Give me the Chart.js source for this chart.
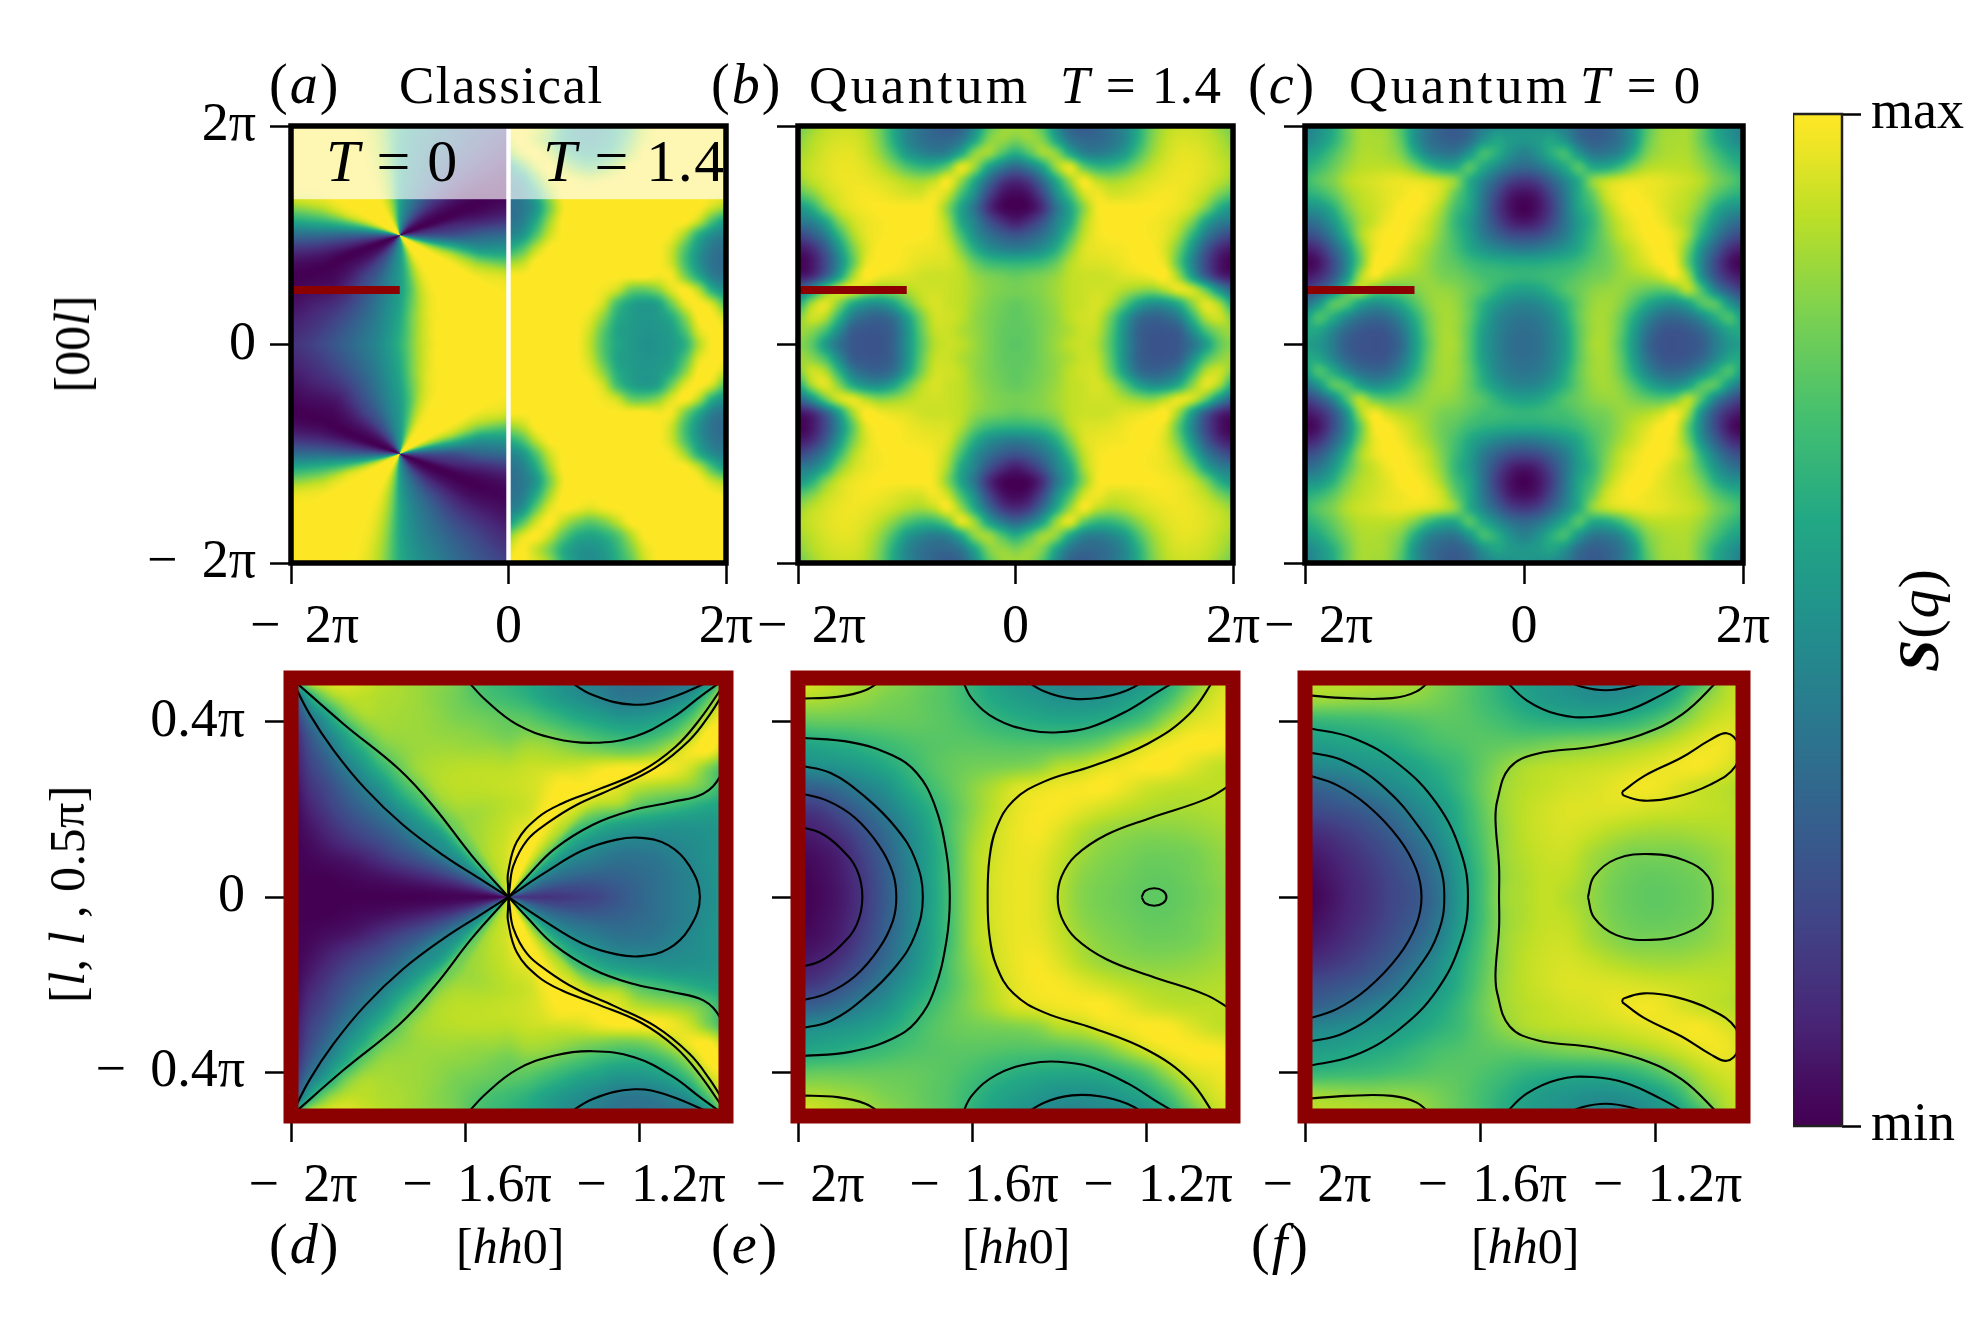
<!DOCTYPE html>
<html>
<head>
<meta charset="utf-8">
<script src="https://cdn.jsdelivr.net/npm/chart.js@4"></script>
<style>
  html, body { margin: 0; background: #fff; }
  #page { position: relative; width: 1980px; height: 1320px; overflow: hidden; font-family: "Liberation Serif", serif; color: #000; }
  canvas { position: absolute; }
  .txt { position: absolute; line-height: 1; white-space: pre; z-index: 5; }
  .rot { position: absolute; line-height: 1; white-space: pre; z-index: 5; transform: translate(-50%, -50%) rotate(-90deg); }
</style>
</head>
<body>
<div id="page"></div>
<script>
// tick positions and labels (pi units)
const topTicksX = [-2, 0, 2];
const topTicksY = [-2, 0, 2];
const topLabelsX = ['\u00a0\u00a0\u2212\u00a0\u20092\u03c0', '0', '2\u03c0'];
const topLabelsY = ['\u2212\u00a0\u20092\u03c0', '0', '2\u03c0'];
const botTicksX = [-2, -1.6, -1.2];
const botTicksY = [-0.4, 0, 0.4];
const botLabelsX = ['\u2212\u00a0\u20092\u03c0', '\u2212\u00a0\u20091.6\u03c0', '\u2212\u00a0\u20091.2\u03c0'];
const botLabelsY = ['\u2212\u00a0\u20090.4\u03c0', '0', '0.4\u03c0'];
const barTicks = [0, 1];
const barLabels = ['min', 'max'];

// viridis, 0..100
const viridis = ['#440154', '#482475', '#414487', '#355f8d', '#2a788e', '#21918c', '#22a884', '#44bf70', '#7ad151', '#bddf26', '#fde725'];
const barValues = [0, 10, 20, 30, 40, 50, 60, 70, 80, 90, 100];

// S(q), 0 = min, 100 = max.
// (a) left half, read round the point (-1, -1): one row per radius, every 10 degrees
const aRadii = [0.1, 0.25, 0.5, 0.75, 1];
const aRound = [
  [25,48,80,100,100,100,92,78,62,52,45,36,26,16,7,2,0,10,28,52,85,100,100,100,98,88,72,55,45,36,26,16,7,2,0,10],
  [25,50,84,100,100,100,95,82,66,53,46,37,27,18,8,2,0,11,30,57,88,100,100,100,99,91,77,57,46,38,29,19,9,2,0,11],
  [25,55,88,100,100,100,98,88,70,55,47,38,28,20,10,3,0,12,32,62,92,100,100,100,100,95,82,60,48,40,32,22,12,3,0,12],
  [32,52,85,100,100,100,100,96,82,60,48,37,27,16,6,1,1,12,35,65,90,100,100,100,100,97,84,60,48,40,32,22,12,3,0,10],
  [35,60,92,100,100,100,100,100,88,64,48,38,28,18,10,3,0,10,35,68,95,100,100,100,100,98,86,62,50,42,33,24,14,5,1,10]
];
// (a) right half, upper quadrant, x 0..2, y 2..0
const aRight = [
  [100,100,95,85,65,52,48,52,62,75,92,100,100,100,100,100,100],
  [95,100,92,80,62,52,50,54,65,80,95,100,100,100,100,100,100],
  [82,95,100,92,75,62,58,62,72,88,100,100,100,100,100,100,100],
  [55,72,92,100,90,80,75,80,90,100,100,100,100,100,100,100,100],
  [42,50,75,95,100,98,95,98,100,100,100,100,100,100,100,100,100],
  [38,42,60,85,100,100,100,100,100,100,100,100,100,100,100,100,98],
  [36,40,52,78,98,100,100,100,100,100,100,100,100,100,100,92,85],
  [38,43,60,85,100,100,100,100,100,100,100,100,100,100,90,70,55],
  [45,52,72,92,100,100,100,100,100,100,100,100,98,85,62,48,42],
  [62,72,90,100,100,100,100,100,100,100,100,100,92,72,52,40,36],
  [85,90,100,100,100,100,100,100,100,100,100,100,92,70,50,38,34],
  [100,100,100,100,100,100,100,100,100,100,100,98,98,80,60,43,38],
  [100,100,100,100,100,100,100,98,92,78,76,82,95,100,88,62,50],
  [100,100,100,100,100,100,100,92,70,58,54,58,78,96,100,92,72],
  [100,100,100,100,100,100,96,82,62,55,52,54,62,82,100,100,92],
  [100,100,100,100,100,100,92,74,58,54,51,52,56,72,95,100,100],
  [100,100,100,100,100,100,90,72,59,54,50,51,54,64,88,100,100]
];
// (b) upper left quadrant, x -2..0, y 2..0
const bQuad = [
  [78,84,90,92,92,88,78,60,46,38,32,28,32,48,72,84,86],
  [82,88,92,94,94,90,80,62,46,38,34,34,40,58,80,84,80],
  [86,90,94,96,96,92,84,70,54,46,42,45,60,82,85,72,62],
  [88,92,95,97,97,95,90,82,72,66,66,76,95,84,58,42,34],
  [84,90,94,97,98,97,95,92,88,86,90,98,84,60,36,18,12],
  [72,80,90,95,98,99,98,96,94,94,98,92,70,48,22,6,2],
  [52,62,80,92,97,99,100,100,100,100,98,82,58,38,14,2,0],
  [40,44,58,80,92,97,99,100,100,100,98,86,60,44,26,14,8],
  [20,28,42,65,86,96,99,100,100,100,98,90,70,50,38,30,26],
  [6,12,28,52,78,94,100,100,99,98,97,94,80,62,50,44,42],
  [0,6,22,46,74,96,100,100,98,96,95,94,88,76,68,65,64],
  [6,12,30,56,85,100,98,96,95,93,92,92,90,84,80,78,76],
  [32,50,75,92,96,88,82,84,88,92,93,92,90,86,82,80,79],
  [60,85,95,82,62,52,50,58,74,88,94,92,90,85,81,78,76],
  [80,92,88,65,42,34,32,38,56,78,92,93,90,84,80,77,75],
  [85,82,70,48,30,27,27,32,50,74,90,92,88,84,80,76,75],
  [82,75,55,38,28,26,26,32,50,72,88,92,90,85,80,76,74]
];
// (c) upper left quadrant, x -2..0, y 2..0
const cQuad = [
  [42,50,60,76,86,86,84,72,52,38,30,28,32,42,48,50,52],
  [45,52,62,76,86,87,85,75,52,38,32,30,36,50,58,54,52],
  [55,60,70,80,87,88,86,80,62,46,40,40,52,68,62,50,44],
  [62,68,76,84,89,90,90,88,80,68,60,60,72,60,48,38,34],
  [68,74,80,88,92,94,96,97,96,94,90,82,62,46,32,20,16],
  [62,66,74,84,90,93,96,98,100,98,92,76,60,40,22,8,4],
  [50,52,62,78,88,92,96,100,100,96,86,70,58,38,18,5,0],
  [35,40,52,70,85,92,98,100,98,92,82,66,54,38,22,10,6],
  [22,28,42,62,85,96,100,100,96,90,80,68,56,42,32,24,22],
  [8,14,30,50,78,96,100,98,92,86,78,70,60,52,46,42,40],
  [0,6,22,45,75,98,100,95,90,84,78,74,68,64,62,60,60],
  [6,12,26,50,85,98,92,88,86,84,80,78,74,70,68,66,65],
  [18,28,44,70,88,78,74,76,80,84,84,82,77,72,64,58,56],
  [38,52,72,72,58,50,52,60,72,82,86,84,76,64,54,47,45],
  [55,70,62,48,38,34,36,46,62,78,86,85,76,60,47,41,39],
  [60,58,46,34,28,26,28,38,56,76,86,85,74,56,45,38,36],
  [55,52,42,30,26,25,26,34,54,74,86,86,74,55,44,37,35]
];
// (d) near the point (-1.5, 0): one row per radius, every 5 degrees, upper half
const dRadii = [0.1, 0.2, 0.3, 0.4];
const dRound = [
  [15,18,22,28,33,38,44,50,58,68,78,88,95,100,100,100,100,98,95,93,92,91,90,88,86,80,74,66,56,47,38,30,22,14,8,3,1],
  [20,23,27,32,38,42,47,52,60,68,85,92,98,100,98,94,92,91,90,89,88,87,86,85,84,80,76,62,52,48,40,30,22,14,7,2,0],
  [32,33,36,38,40,45,52,58,68,80,92,100,100,100,96,92,91,90,90,90,90,90,90,90,88,84,72,62,50,45,35,28,22,14,7,2,0],
  [42,42,43,44,47,51,58,68,80,95,100,92,82,72,64,64,70,78,80,84,86,88,90,90,90,87,78,65,52,42,35,28,20,13,7,2,0]
];
// (d) further out, upper half, x -2..-1, y 0.5..0
const dHalf = [
  [60,95,97,97,93,90,87,85,83,80,72,68,64,60,56,50,46,42,38,37,37,38,38,45,80],
  [22,60,82,90,90,88,87,85,82,79,74,70,67,63,57,52,48,44,40,39,40,44,50,70,95],
  [12,40,58,78,87,87,86,85,83,80,78,76,74,72,67,62,57,54,50,50,52,57,68,88,100],
  [8,28,45,60,76,84,85,85,84,83,82,80,78,80,78,74,70,66,63,62,65,72,85,100,100],
  [5,22,35,50,62,76,82,85,86,86,85,85,84,88,88,85,82,80,78,78,82,90,98,100,90],
  [3,18,28,40,52,64,76,85,88,89,90,90,90,93,94,94,95,98,100,100,100,98,92,80,68],
  [1,14,22,32,42,52,66,78,88,91,93,95,97,98,100,100,100,100,96,90,87,85,82,75,64],
  [0,10,18,26,34,42,54,68,84,92,96,98,100,100,100,100,97,94,90,76,71,68,64,60,58],
  [0,6,13,20,26,32,40,55,72,86,94,99,100,100,98,92,80,68,60,56,54,52,52,52,54],
  [0,3,8,13,18,22,30,38,52,72,90,98,100,94,88,68,52,46,44,44,44,46,48,50,52],
  [0,1,3,5,8,12,18,24,32,45,68,94,100,72,48,38,34,34,34,36,38,42,46,50,52],
  [0,0,0,1,2,3,5,8,12,18,30,58,95,40,24,22,24,26,28,32,36,40,44,49,52],
  [0,0,0,0,0,0,0,0,1,2,5,14,50,10,14,16,20,24,28,32,36,40,44,48,52]
];
// (e) upper half, x -2..-1, y 0.5..0
const eHalf = [
  [97,93,90,87,84,80,76,72,64,57,52,48,45,44,46,48,52,60,74,88,96],
  [88,87,85,83,80,78,75,72,66,60,56,53,50,50,51,55,60,70,84,93,97],
  [75,76,76,76,76,76,75,73,70,66,63,61,60,60,62,66,73,85,94,97,99],
  [58,60,62,65,68,71,73,74,74,73,72,72,72,74,78,86,93,98,100,100,98],
  [48,50,52,55,60,66,72,76,78,79,80,82,88,90,95,98,100,100,96,92,90],
  [30,32,37,44,50,60,68,75,82,88,94,96,98,99,100,97,93,91,90,90,90],
  [15,18,25,33,42,52,62,72,82,90,96,99,99,96,93,90,88,87,87,88,89],
  [7,10,16,25,35,46,58,72,84,92,97,99,95,89,85,83,82,82,83,85,87],
  [3,5,10,20,31,44,56,70,86,93,97,97,92,86,82,80,78,78,79,82,85],
  [0,3,8,17,29,42,56,70,86,94,97,96,90,83,80,78,76,76,78,81,84],
  [0,2,7,16,28,42,55,70,86,94,97,96,89,82,79,77,75,75,77,80,83]
];
// (f) upper half, x -2..-1, y 0.5..0
const fHalf = [
  [90,90,90,89,88,87,82,76,70,62,56,53,49,46,44,46,50,56,66,85,92],
  [86,85,84,83,83,82,79,75,70,64,58,54,52,50,50,52,56,65,80,88,93],
  [65,66,67,68,70,72,74,74,72,69,65,63,62,62,63,66,72,80,88,93,94],
  [55,56,58,60,62,66,70,72,74,75,76,78,80,81,83,85,88,92,96,98,94],
  [46,47,49,52,54,58,63,68,75,82,87,89,90,91,92,94,96,98,99,96,92],
  [30,33,37,42,47,52,58,66,76,85,89,91,93,94,96,98,98,95,92,90,88],
  [22,24,27,31,37,45,52,62,74,85,90,93,95,95,95,94,93,92,91,90,89],
  [12,15,19,24,30,38,48,60,72,84,90,93,94,92,89,87,86,86,87,88,89],
  [6,9,14,19,25,32,42,56,70,84,89,92,92,87,83,80,80,80,82,85,88],
  [2,6,11,16,22,28,38,53,68,83,88,91,90,85,80,77,76,77,79,84,88],
  [0,4,10,15,21,26,36,52,68,84,88,91,88,84,79,76,75,76,78,83,87]
];

// red cut line and the dividing line of panel (a)
const cutX = [-2, -1];
const cutY = [0.5, 0.5];
const splitX = [0, 0];
const splitY = [-2, 2];
const bandY = [1.33, 2];

// contour lines, upper half, as x list and y list
const dA = [[-2,-1.957,-1.902,-1.83,-1.743,-1.648,-1.568,-1.5], [.5,.417,.335,.248,.165,.094,.043,0]];
const dB = [[-2,-1.878,-1.751,-1.671,-1.584,-1.5], [.5,.394,.291,.205,.094,0]];
const dC = [[-1.5,-1.501,-1.501,-1.481,-1.433,-1.378,-1.298,-1.195,-1.116,-1.06,-1], [0,.024,.055,.126,.181,.213,.244,.287,.343,.406,.492]];
const dE = [[-1.5,-1.498,-1.489,-1.457,-1.41,-1.346,-1.259,-1.163,-1.084,-1.037,-1], [0,.016,.071,.13,.169,.209,.248,.295,.358,.417,.476]];
const dF = [[-1.5,-1.457,-1.394,-1.306,-1.219,-1.124,-1.052,-1.013,-1], [0,.047,.11,.165,.197,.217,.236,.276,.323]];
const dG = [[-1.6,-1.552,-1.481,-1.394,-1.306,-1.211,-1.124,-1.06,-1], [.5,.449,.394,.362,.352,.366,.409,.457,.5]];
const dH = [[-1.37,-1.306,-1.211,-1.132,-1.021], [.5,.461,.439,.453,.5]];
const dLoop = [[-1.5,-1.417,-1.33,-1.251,-1.195,-1.132,-1.084,-1.06], [0,.055,.106,.131,.135,.118,.071,0]];

const e1 = [[-2,-1.948,-1.901,-1.865,-1.852], [.161,.146,.11,.063,0]];
const e2 = [[-2,-1.933,-1.869,-1.814,-1.782,-1.774], [.238,.22,.181,.118,.055,0]];
const e3 = [[-2,-1.925,-1.845,-1.774,-1.731,-1.713], [.301,.283,.228,.157,.087,0]];
const e4 = [[-2,-1.877,-1.782,-1.727,-1.687,-1.659,-1.651], [.364,.353,.323,.283,.213,.102,0]];
const e8 = [[-1.041,-1.101,-1.196,-1.323,-1.433,-1.505,-1.544,-1.56,-1.564], [.5,.417,.35,.299,.264,.22,.157,.087,0]];
const e9 = [[-1,-1.061,-1.188,-1.291,-1.362,-1.394,-1.403], [.26,.224,.181,.142,.094,.047,0]];
const e10 = [[-1.21,-1.202,-1.181,-1.161,-1.153], [0,.014,.02,.014,0]];
const e5 = [[-2,-1.909,-1.845,-1.802], [.453,.457,.472,.5]];
const e6 = [[-1.624,-1.6,-1.544,-1.465,-1.402,-1.33,-1.243,-1.172,-1.118], [.5,.453,.406,.38,.376,.387,.425,.469,.5]];
const e7 = [[-1.485,-1.433,-1.37,-1.307,-1.243,-1.194], [.5,.469,.453,.455,.472,.5]];

const f1 = [[-2,-1.928,-1.857,-1.786,-1.746,-1.734], [.28,.256,.209,.134,.063,0]];
const f2 = [[-2,-1.912,-1.817,-1.738,-1.695,-1.682], [.332,.311,.248,.157,.079,0]];
const f3 = [[-2,-1.888,-1.786,-1.699,-1.644,-1.628], [.387,.362,.303,.213,.102,0]];
const f7 = [[-1.051,-1.139,-1.234,-1.344,-1.47,-1.533,-1.561,-1.565,-1.557,-1.557], [.5,.417,.37,.343,.327,.295,.22,.173,.071,0]];
const f8 = [[-1.354,-1.34,-1.289,-1.21,-1.132,-1.08,-1.069], [0,.047,.087,.098,.083,.047,0]];
const f4 = [[-2,-1.904,-1.801,-1.746,-1.709], [.461,.454,.454,.469,.5]];
const f5 = [[-1.548,-1.494,-1.423,-1.344,-1.266,-1.187,-1.118], [.5,.449,.417,.411,.425,.461,.5]];
const f6 = [[-1.415,-1.368,-1.313,-1.258,-1.199], [.5,.48,.472,.48,.5]];
const f9 = [[-1.276,-1.226,-1.139,-1.076,-1.037,-1.012,-1.017,-1.076,-1.155,-1.226,-1.273,-1.276], [.24,.276,.319,.358,.374,.35,.299,.256,.228,.22,.232,.24]];

const flipRows = rows => rows.concat(rows.slice(0, -1).reverse());
const flipCols = rows => rows.map(r => r.concat(r.slice(0, -1).reverse()));

// stops as rgb once
const stops = viridis.map(c => [parseInt(c.slice(1, 3), 16), parseInt(c.slice(3, 5), 16), parseInt(c.slice(5, 7), 16)]);
function colorOf(v) {
  const t = Math.min(Math.max(v, 0), 100) / 10;
  const i = Math.min(Math.floor(t), 9);
  const f = t - i;
  return [0, 1, 2].map(k => stops[i][k] + (stops[i + 1][k] - stops[i][k]) * f);
}

function cubic(a, b, c, d, t) {
  return b + 0.5 * t * (c - a + t * (2 * a - 5 * b + 4 * c - d + t * (3 * (b - c) + d - a)));
}
function sample(rows, u, v) {
  const nr = rows.length, nc = rows[0].length;
  const i = Math.min(Math.floor(v), nr - 2), j = Math.min(Math.floor(u), nc - 2);
  const col = [];
  for (let m = -1; m <= 2; m++) {
    const r = rows[Math.min(Math.max(i + m, 0), nr - 1)];
    const at = n => r[Math.min(Math.max(j + n, 0), nc - 1)];
    col.push(cubic(at(-1), at(0), at(1), at(2), u - j));
  }
  return cubic(col[0], col[1], col[2], col[3], v - i);
}
function sampleGrid(g, xv, yv) {
  const u = (xv - g.x[0]) / (g.x[1] - g.x[0]) * (g.rows[0].length - 1);
  const v = (g.y[1] - yv) / (g.y[1] - g.y[0]) * (g.rows.length - 1);
  return sample(g.rows, Math.max(u, 0), Math.max(v, 0));
}
// round table: along the angle smooth, between radii straight
function sampleRound(g, xv, yv) {
  const dx = xv - g.cx, dy = g.dy(yv);
  const rad = Math.hypot(dx, dy);
  if (g.far && rad >= g.fade[1]) return sampleGrid(g.far, xv, yv);
  let deg = Math.atan2(dy, dx) * 180 / Math.PI;
  if (deg < 0) deg += 360;
  const n = g.rows[0].length;
  const a = deg / g.step, k = Math.floor(a);
  const along = r => cubic(r[g.wrap(k - 1, n)], r[g.wrap(k, n)], r[g.wrap(k + 1, n)], r[g.wrap(k + 2, n)], a - k);
  const rs = g.radii;
  let val = along(g.rows[rs.length - 1]);
  if (rad <= rs[0]) {
    val = along(g.rows[0]);
  } else {
    for (let i = 1; i < rs.length; i++) {
      if (rad <= rs[i]) {
        const t = (rad - rs[i - 1]) / (rs[i] - rs[i - 1]);
        val = along(g.rows[i - 1]) * (1 - t) + along(g.rows[i]) * t;
        break;
      }
    }
  }
  if (g.far && rad > g.fade[0]) {
    const t = (rad - g.fade[0]) / (g.fade[1] - g.fade[0]);
    val = val * (1 - t) + sampleGrid(g.far, xv, yv) * t;
  }
  return val;
}

// paints value grids under the datasets, pixel by pixel through the chart scales
const heatPlugin = {
  id: 'heat',
  beforeDatasetsDraw(chart, args, opts) {
    const area = chart.chartArea, sx = chart.scales.x, sy = chart.scales.y;
    const x0 = Math.round(area.left), y0 = Math.round(area.top);
    const w = Math.round(area.right) - x0, h = Math.round(area.bottom) - y0;
    const img = chart.ctx.createImageData(w, h);
    for (let py = 0; py < h; py++) {
      const yv = sy.getValueForPixel(y0 + py + 0.5);
      for (let px = 0; px < w; px++) {
        const xv = sx.getValueForPixel(x0 + px + 0.5);
        const g = opts.layers.find(l => xv <= l.x[1]) || opts.layers[opts.layers.length - 1];
        const c = colorOf(g.radii ? sampleRound(g, xv, yv) : sampleGrid(g, xv, yv));
        const o = (py * w + px) * 4;
        img.data[o] = c[0]; img.data[o + 1] = c[1]; img.data[o + 2] = c[2]; img.data[o + 3] = 255;
      }
    }
    chart.ctx.putImageData(img, x0, y0);
    if (opts.band) {
      const top = sy.getPixelForValue(opts.band[1]), bot = sy.getPixelForValue(opts.band[0]);
      chart.ctx.fillStyle = 'rgba(255,255,255,0.65)';
      chart.ctx.fillRect(area.left, top, area.right - area.left, bot - top);
    }
  },
  afterDatasetsDraw(chart, args, opts) {
    const a = chart.chartArea, ctx = chart.ctx;
    ctx.save();
    ctx.strokeStyle = opts.frame;
    ctx.lineWidth = opts.frameWidth;
    ctx.strokeRect(a.left, a.top, a.right - a.left, a.bottom - a.top);
    ctx.restore();
  }
};

const toPts = line => line[0].map((x, i) => ({ x: x, y: line[1][i] }));
const lineSet = (pts, color, width, tension) => ({
  data: pts, showLine: true, pointRadius: 0, borderColor: color, borderWidth: width,
  borderCapStyle: 'butt', tension: tension
});
const contour = pts => lineSet(pts, '#000', 2.1, 0.4);
const mirrored = pts => pts.map(p => ({ x: p.x, y: -p.y }));
// one piece above y=0 and its copy below
const pair = line => [contour(toPts(line)), contour(mirrored(toPts(line)))];
// lines that run through y=0 in one go
const through = line => {
  const p = toPts(line);
  return [contour(p.concat(mirrored(p).reverse().slice(1)))];
};
const cutLine = () => lineSet(toPts([cutX, cutY]), '#8b0000', 8, 0);

const page = document.getElementById('page');
const tickFont = { family: 'Liberation Serif', size: 54 };

function panel(box, o) {
  const yW = 200, xH = 110, padT = 70, padR = 70;
  const cv = document.createElement('canvas');
  const W = yW + box[1] - box[0] + padR, H = padT + box[3] - box[2] + xH;
  cv.width = W; cv.height = H;
  cv.style.left = (box[0] - yW) + 'px';
  cv.style.top = (box[2] - padT) + 'px';
  page.appendChild(cv);
  const grid = { drawOnChartArea: false, tickLength: o.tick, tickWidth: 2.5, tickColor: '#000' };
  new Chart(cv.getContext('2d'), {
    type: 'scatter',
    data: { datasets: o.sets },
    options: {
      responsive: false, animation: false, devicePixelRatio: 1,
      layout: { padding: { top: padT, right: padR, left: 0, bottom: 0 } },
      plugins: {
        legend: { display: false }, tooltip: { enabled: false }, title: { display: false },
        heat: { layers: o.layers, band: o.band, frame: o.frame, frameWidth: o.frameWidth }
      },
      scales: {
        x: {
          type: 'linear', min: o.rangeX[0], max: o.rangeX[1],
          afterBuildTicks: s => { s.ticks = o.ticksX.map(v => ({ value: v })); },
          afterFit: s => { s.height = xH; },
          grid: grid, border: { display: false },
          ticks: {
            font: tickFont, color: '#000', padding: o.padX, maxRotation: 0, autoSkip: false,
            labelOffset: o.shiftX, callback: (v, i) => o.labelsX[i]
          }
        },
        y: {
          type: 'linear', min: o.rangeY[0], max: o.rangeY[1],
          afterBuildTicks: s => { s.ticks = o.ticksY.map(v => ({ value: v })); },
          afterFit: s => { s.width = yW; },
          grid: grid, border: { display: false },
          ticks: {
            font: tickFont, color: '#000', padding: o.padY, autoSkip: false,
            callback: (v, i) => (o.showY ? o.labelsY[i] : '')
          }
        }
      }
    },
    plugins: [heatPlugin]
  });
}

function topPanel(box, layers, extra, showY, band) {
  panel(box, {
    layers: layers, band: band, sets: [cutLine()].concat(extra),
    rangeX: [-2, 2], rangeY: [-2, 2], ticksX: topTicksX, ticksY: topTicksY,
    labelsX: topLabelsX, labelsY: topLabelsY, showY: showY, shiftX: 0,
    tick: 21, padX: 11, padY: 14, frame: '#000', frameWidth: 5.5
  });
}
function botPanel(box, layer, sets, showY) {
  panel(box, {
    layers: [layer], sets: sets,
    rangeX: [-2, -1], rangeY: [-0.5, 0.5], ticksX: botTicksX, ticksY: botTicksY,
    labelsX: botLabelsX, labelsY: botLabelsY, showY: showY, shiftX: 12,
    tick: 26, padX: 12, padY: 20, frame: '#8b0000', frameWidth: 15
  });
}
const halfGrid = rows => ({ x: [-2, -1], y: [-0.5, 0.5], rows: flipRows(rows) });

const splitLine = lineSet(toPts([splitX, splitY]), '#fff', 4.4, 0);
topPanel([291, 726, 126, 563], [
  { x: [-2, 0], cx: -1, dy: y => 1 - Math.abs(y), step: 10, radii: aRadii, rows: aRound, wrap: (i, n) => (i + n) % n },
  { x: [0, 2], y: [-2, 2], rows: flipRows(aRight) }
], [splitLine], true, bandY);
topPanel([798, 1233, 126, 563], [{ x: [-2, 2], y: [-2, 2], rows: flipRows(flipCols(bQuad)) }], [], false);
topPanel([1305, 1743, 126, 563], [{ x: [-2, 2], y: [-2, 2], rows: flipRows(flipCols(cQuad)) }], [], false);

botPanel([291, 726, 677.5, 1115.5], {
  x: [-2, -1], cx: -1.5, dy: y => Math.abs(y), step: 5, radii: dRadii, rows: dRound,
  wrap: (i, n) => (i < 0 ? -i : i > n - 1 ? 2 * (n - 1) - i : i),
  far: halfGrid(dHalf), fade: [0.22, 0.36]
}, [].concat(
  pair(dA), pair(dB), pair(dC), pair(dE), pair(dF), pair(dG), pair(dH), through(dLoop)
), true);
botPanel([797.5, 1233, 677.5, 1115.5], halfGrid(eHalf), [].concat(
  through(e1), through(e2), through(e3), through(e4), through(e8), through(e9), through(e10),
  pair(e5), pair(e6), pair(e7)
), false);
botPanel([1305, 1743, 677.5, 1115.5], halfGrid(fHalf), [].concat(
  through(f1), through(f2), through(f3), through(f7), through(f8),
  pair(f4), pair(f5), pair(f6), pair(f9)
), false);

// colour bar
(function () {
  const box = [1793, 1842, 114, 1126];
  const cv = document.createElement('canvas');
  cv.width = 187; cv.height = box[3] - box[2] + 140;
  cv.style.left = box[0] + 'px';
  cv.style.top = (box[2] - 70) + 'px';
  page.appendChild(cv);
  new Chart(cv.getContext('2d'), {
    type: 'scatter',
    data: { datasets: [] },
    options: {
      responsive: false, animation: false, devicePixelRatio: 1,
      layout: { padding: { top: 70, bottom: 70, left: 0, right: 0 } },
      plugins: {
        legend: { display: false }, tooltip: { enabled: false },
        heat: { layers: [{ x: [0, 1], y: [0, 1], rows: barValues.slice().reverse().map(v => [v, v]) }], frame: '#222', frameWidth: 2.5 }
      },
      scales: {
        x: { type: 'linear', min: 0, max: 1, display: false },
        y: {
          type: 'linear', position: 'right', min: 0, max: 1,
          afterBuildTicks: s => { s.ticks = barTicks.map(v => ({ value: v })); },
          afterFit: s => { s.width = 138; },
          grid: { drawOnChartArea: false, tickLength: 19, tickWidth: 2.5, tickColor: '#000' },
          border: { display: false },
          ticks: { font: tickFont, color: '#000', padding: 10, callback: (v, i) => barLabels[i] }
        }
      }
    },
    plugins: [heatPlugin]
  });
})();

// text round the panels: html, left, baseline, size, letter spacing
const labels = [
  ['(<i>a</i>)', 269, 103, 56, 2], ['Classical', 399, 103, 53, 1.5],
  ['(<i>b</i>)', 711, 103, 56, 2], ['Quantum', 809, 103, 53, 3.5], ['<i>T</i> = 1.4', 1060, 103, 53, 1.5],
  ['(<i>c</i>)', 1248, 103, 56, 2], ['Quantum', 1349, 103, 53, 3.5], ['<i>T</i> = 0', 1580, 103, 53, 2],
  ['<i>T</i> = 0', 326, 181, 60, 1], ['<i>T</i> = 1.4', 543, 181, 60, 1.5],
  ['(<i>d</i>)', 269, 1263, 56, 2], ['[<i>hh</i>0]', 456, 1263, 50, 0],
  ['(<i>e</i>)', 711, 1263, 56, 2], ['[<i>hh</i>0]', 962, 1263, 50, 0],
  ['(<i>f</i>)', 1251, 1263, 56, 2], ['[<i>hh</i>0]', 1471, 1263, 50, 0]
];
labels.forEach(l => {
  const d = document.createElement('div');
  d.className = 'txt';
  d.innerHTML = l[0];
  d.style.left = l[1] + 'px';
  d.style.top = (l[2] - 0.8375 * l[3]) + 'px';
  d.style.fontSize = l[3] + 'px';
  d.style.letterSpacing = l[4] + 'px';
  page.appendChild(d);
});
const sideLabels = [
  ['[00<i>l</i>]', 72, 344, 50, 0],
  ['[<i>l</i>, <i>l</i> , 0.5\u03c0]', 67, 894, 50, 0.5],
  ['<b><i>S</i></b>(<i>q</i>)', 1919, 620, 58, 1]
];
sideLabels.forEach(l => {
  const d = document.createElement('div');
  d.className = 'rot';
  d.innerHTML = l[0];
  d.style.left = l[1] + 'px';
  d.style.top = l[2] + 'px';
  d.style.fontSize = l[3] + 'px';
  d.style.letterSpacing = l[4] + 'px';
  page.appendChild(d);
});
</script>
</body>
</html>
